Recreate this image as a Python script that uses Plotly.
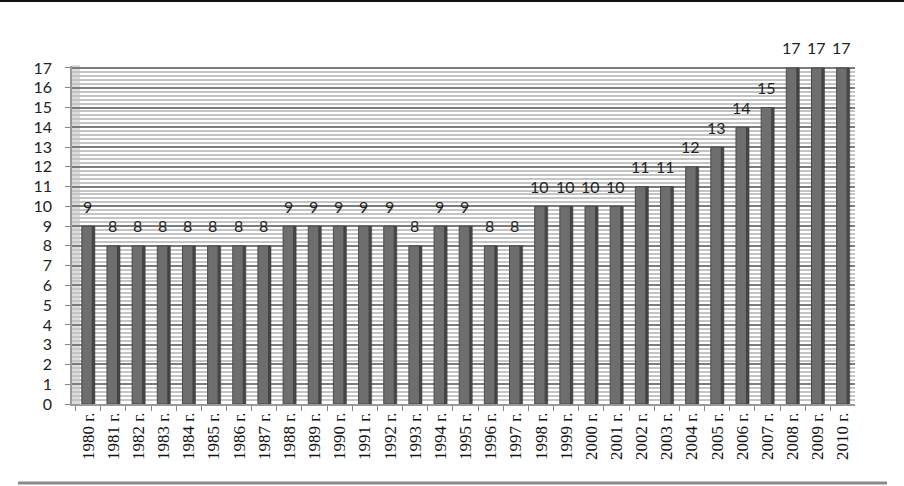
import plotly.graph_objects as go

years = [str(y) + " г." for y in range(1980, 2011)]
values = [9, 8, 8, 8, 8, 8, 8, 8, 9, 9, 9, 9, 9, 8, 9, 9, 8, 8,
          10, 10, 10, 10, 11, 11, 12, 13, 14, 15, 17, 17, 17]
y_ticks = list(range(0, 18))

L, R, T, B = 72, 49, 66, 82
W, H = 904, 486
pw = W - L - R
ph = H - T - B

def px(x):
    return (x - L) / pw

def py(y):
    return (H - B - y) / ph

fig = go.Figure()
# bar front face
fig.add_trace(go.Bar(
    x=years, y=values, width=0.42, offset=-0.25,
    marker=dict(color="#6e6e6e", line=dict(color="#4a4a4a", width=1)),
    hoverinfo="skip",
))
# darker right side of each bar (3D look)
fig.add_trace(go.Bar(
    x=years, y=values, width=0.1, offset=0.17,
    marker=dict(color="#464646", line=dict(color="#3a3a3a", width=0.5)),
    hoverinfo="skip",
))

annotations = []
for yr, v in zip(years, values):
    annotations.append(dict(x=yr, y=v, text=str(v), showarrow=False,
                            yshift=20, xshift=-1,
                            font=dict(family="Lato", size=16, color="#222")))

shapes = [
    # left side wall
    dict(type="rect", xref="paper", yref="paper", x0=0, x1=px(80), y0=0, y1=py(65),
         fillcolor="#dcdcdc", line=dict(width=0), layer="below"),
    # top frame line
    dict(type="line", xref="paper", yref="paper", x0=px(0), x1=px(904), y0=py(1), y1=py(1),
         line=dict(color="#111", width=2)),
    # bottom frame line
    dict(type="line", xref="paper", yref="paper", x0=px(18), x1=px(887), y0=py(483), y1=py(483),
         line=dict(color="#8a8a8a", width=3)),
]

fig.update_layout(
    width=W, height=H,
    margin=dict(l=L, r=R, t=T, b=B),
    paper_bgcolor="white", plot_bgcolor="white",
    showlegend=False, barmode="overlay",
    annotations=annotations, shapes=shapes,
    xaxis=dict(
        type="category", range=[-0.64, 30.48],
        tickangle=-90, tickson="boundaries", ticks="outside", ticklen=5,
        tickcolor="#888", showline=True, linecolor="#999", linewidth=1.5,
        tickfont=dict(family="Liberation Serif", size=17, color="#111"),
        showgrid=False,
    ),
    yaxis=dict(
        range=[0, 17.1], tickvals=y_ticks, ticks="outside", ticklen=5,
        tickcolor="#888", showline=True, linecolor="#999", linewidth=1.5,
        tickfont=dict(family="Lato", size=16, color="#222"),
        ticklabelstandoff=10,
        showgrid=True, gridcolor="#7c7c7c", gridwidth=1.5,
        minor=dict(dtick=0.2, showgrid=True, gridcolor="#c4c4c4", gridwidth=2),
        zeroline=False,
    ),
)

fig.write_html("out.html", config={"displayModeBar": False},
               post_script="document.body.style.margin='0';")
